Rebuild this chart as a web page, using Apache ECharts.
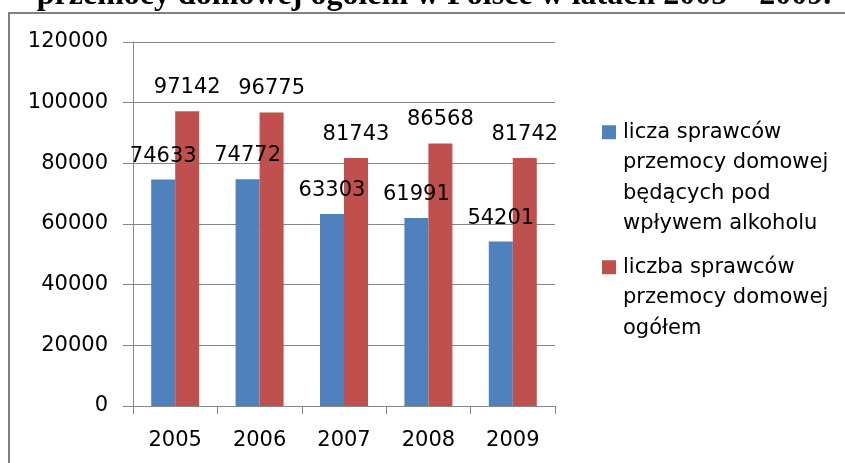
<!DOCTYPE html>
<html>
<head>
<meta charset="utf-8">
<script src="https://cdn.jsdelivr.net/npm/echarts@6/dist/echarts.min.js"></script>
<style>
html,body{margin:0;padding:0;background:#fff;}
#c{width:845px;height:463px;}
</style>
</head>
<body>
<div id="c"></div>
<script>
var titleText = 'przemocy domowej ogółem w Polsce w latach 2005 – 2009.';
var years = ['2005', '2006', '2007', '2008', '2009'];
var seriesNames = [
  'licza sprawców\nprzemocy domowej\nbędących pod\nwpływem alkoholu',
  'liczba sprawców\nprzemocy domowej\nogółem'
];
var alcoholValues = [74633, 74772, 63303, 61991, 54201];
var totalValues = [97142, 96775, 81743, 86568, 81742];
var yTicks = {min: 0, max: 120000, interval: 20000};
var colors = ['#4F81BD', '#C0504D'];

var FONT = 'DejaVu Sans';
var chart = echarts.init(document.getElementById('c'), null, {renderer: 'canvas'});

function legendFormatter(name) {
  var idx = seriesNames.indexOf(name);
  var lines = name.split('\n');
  return lines.map(function (l, i) {
    return (i === 0 ? '{sq' + idx + '|}{gap|}' : '{ind|}') + '{t|' + l + '}';
  }).join('\n');
}

var lh = 30.5;
var option = {
  animation: false,
  backgroundColor: '#ffffff',
  color: colors,
  grid: {left: 133, right: 290, top: 42, bottom: 57, containLabel: false},
  graphic: [
    {
      type: 'rect', z: -10, silent: true,
      shape: {x: 9, y: 13, width: 900, height: 500},
      style: {fill: 'none', stroke: '#808080', lineWidth: 2}
    },
    {
      type: 'text', silent: true,
      x: 434, y: -4,
      style: {
        text: titleText,
        font: 'bold 32px "Liberation Serif"',
        fill: '#000',
        align: 'center',
        verticalAlign: 'middle'
      }
    }
  ],
  legend: {
    orient: 'vertical',
    left: 590,
    top: 112,
    itemGap: 13,
    itemWidth: 2,
    itemHeight: 2,
    icon: 'none',
    selectedMode: false,
    formatter: legendFormatter,
    textStyle: {
      fontFamily: FONT, fontSize: 21, color: '#000', lineHeight: lh,
      rich: {
        sq0: {width: 14, height: 14, backgroundColor: colors[0], lineHeight: lh},
        sq1: {width: 14, height: 14, backgroundColor: colors[1], lineHeight: lh},
        gap: {width: 7, lineHeight: lh},
        ind: {width: 21, lineHeight: lh},
        t: {fontFamily: FONT, fontSize: 21, color: '#000', lineHeight: lh}
      }
    },
    data: seriesNames
  },
  xAxis: {
    type: 'category',
    data: years,
    boundaryGap: true,
    axisLine: {show: true, lineStyle: {color: '#868686', width: 1}},
    axisTick: {show: true, length: 8, alignWithLabel: false, lineStyle: {color: '#868686'}},
    axisLabel: {margin: 24, fontFamily: FONT, fontSize: 21, color: '#000'},
    splitLine: {show: false}
  },
  yAxis: {
    type: 'value',
    min: yTicks.min, max: yTicks.max, interval: yTicks.interval,
    axisLine: {show: true, lineStyle: {color: '#868686', width: 1}},
    axisTick: {show: true, length: 10, lineStyle: {color: '#868686'}},
    axisLabel: {margin: 25, fontFamily: FONT, fontSize: 21, color: '#000',
      formatter: function (v) { return String(v); }},
    splitLine: {show: true, lineStyle: {color: '#868686', width: 1}}
  },
  series: [
    {
      name: seriesNames[0], type: 'bar', data: alcoholValues,
      barWidth: 24, barGap: '0%',
      itemStyle: {color: colors[0]},
      label: {show: true, position: 'top', distance: 13, fontFamily: FONT, fontSize: 21, color: '#000'}
    },
    {
      name: seriesNames[1], type: 'bar', data: totalValues,
      barWidth: 24, barGap: '0%',
      itemStyle: {color: colors[1]},
      label: {show: true, position: 'top', distance: 13, fontFamily: FONT, fontSize: 21, color: '#000'}
    }
  ]
};
chart.setOption(option);
</script>
</body>
</html>
